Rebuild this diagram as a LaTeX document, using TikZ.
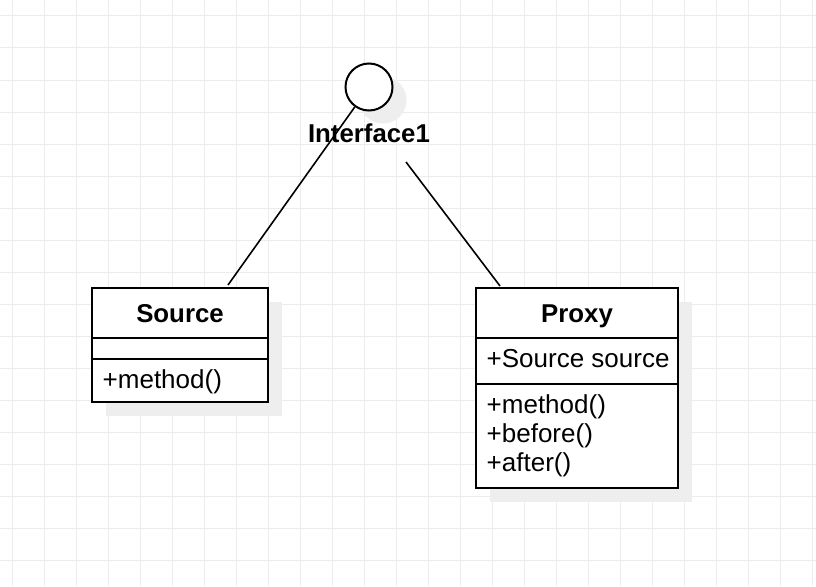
\documentclass[tikz,border=0pt]{standalone}
\usepackage{fontspec}
\setmainfont{Liberation Sans}
\definecolor{gridc}{RGB}{236,236,236}
\definecolor{shadowc}{RGB}{238,238,238}
\tikzset{
  compart/.style={draw=black, line width=2pt, fill=white, anchor=north west, inner sep=0pt, outer sep=0pt},
  shadowbox/.style={fill=shadowc, draw=none, anchor=north west, inner sep=0pt, outer sep=0pt},
  lbl/.style={inner sep=0pt, font=\fontsize{26}{29}\selectfont},
  blbl/.style={inner sep=0pt, font=\fontsize{25.8}{29}\selectfont\bfseries},
  conn/.style={draw=black, line width=1.6pt},
}
\begin{document}
\begin{tikzpicture}[x=1pt,y=-1pt]
\useasboundingbox (0,0) rectangle (816,586);
\fill[white] (0,0) rectangle (816,586);
% grid
\foreach \gx in {12,44,...,812} \draw[gridc, line width=1pt] (\gx,0) -- (\gx,586);
\foreach \gy in {16,48,...,580} \draw[gridc, line width=1pt] (0,\gy) -- (816,\gy);
% shadows
\node[shadowbox, minimum width=176pt, minimum height=113.5pt] (srcshadow) at (106,302) {};
\node[shadowbox, minimum width=202pt, minimum height=199.5pt] (pxshadow) at (490,302) {};
\node[circle, fill=shadowc, minimum size=47pt, inner sep=0pt] (ifshadow) at (383,100) {};
% interface
\node[circle, draw=black, line width=2pt, fill=white, minimum size=47pt, inner sep=0pt] (iface) at (369,87) {};
\node[blbl, anchor=base] (ifacelabel) at (369,142.7) {Interface1};
% Source class
\node[compart, minimum width=176pt, minimum height=50pt] (srctitle) at (92,288) {};
\node[compart, minimum width=176pt, minimum height=20.5pt] (srcattr) at (92,338) {};
\node[compart, minimum width=176pt, minimum height=43pt] (srcops) at (92,358.5) {};
\node[blbl, anchor=base] (srcname) at (180,322.3) {Source};
\node[lbl, anchor=base west] (srcm1) at (102.5,388.5) {+method()};
% Proxy class
\node[compart, minimum width=202pt, minimum height=50pt] (pxtitle) at (476,288) {};
\node[compart, minimum width=202pt, minimum height=46pt] (pxattr) at (476,338) {};
\node[compart, minimum width=202pt, minimum height=103.5pt] (pxops) at (476,384) {};
\node[blbl, anchor=base] (pxname) at (577,322.3) {Proxy};
\node[lbl, anchor=base west] (pxa1) at (486.5,367.5) {+Source source};
\node[lbl, anchor=base west] (pxm1) at (486.5,413) {+method()};
\node[lbl, anchor=base west] (pxm2) at (486.5,442) {+before()};
\node[lbl, anchor=base west] (pxm3) at (486.5,471) {+after()};
% connectors
\coordinate (lend) at (228,285);
\coordinate (rstart) at (406,162);
\coordinate (rend) at (500,286);
\draw[conn] (iface) -- (lend);
\draw[conn] (rstart) -- (rend);
\end{tikzpicture}
\end{document}
